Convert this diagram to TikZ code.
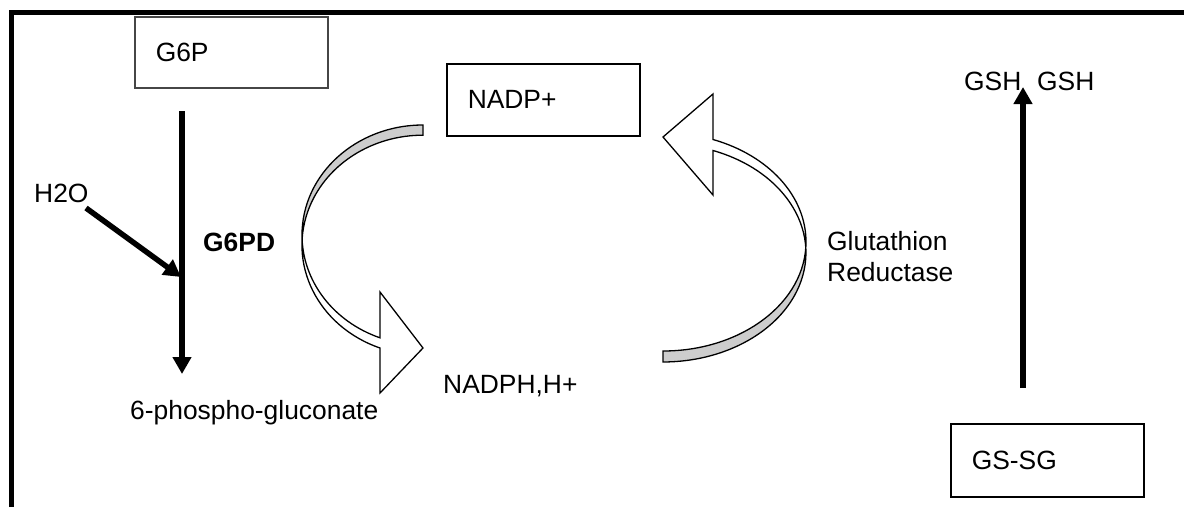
\documentclass[tikz,border=0pt]{standalone}
\usepackage{fontspec}
\setmainfont{Liberation Sans}
\usetikzlibrary{arrows.meta}
\definecolor{bandgray}{RGB}{205,205,205}
\definecolor{boxgray}{RGB}{70,70,70}
\begin{document}
\begin{tikzpicture}[x=1pt,y=1pt,
  lbl/.style={anchor=base west,inner sep=0pt,font=\fontsize{26.4}{31}\selectfont},
  box/.style={draw=black,line width=1.5pt,minimum width=193pt,minimum height=72pt,
    text width=151pt,inner xsep=21pt,inner ysep=0pt,align=left,anchor=north west,
    font=\fontsize{26.4}{31}\selectfont},
  thickarrow/.style={line width=5.5pt,-{Triangle[length=17pt,width=18pt]}},
  curvedge/.style={line width=1.3pt,line join=miter,draw=black},
  frame/.style={line width=5pt,line join=miter}]
\useasboundingbox (0,0) rectangle (1184,-507);
% frame
\draw[frame] (11.5,-507) -- (11.5,-12.5) -- (1190,-12.5);
% boxes
\node[box,draw=boxgray,minimum width=192pt,minimum height=71pt] (g6p) at (134,-16) {G6P};
\node[box] (nadp) at (446,-63) {NADP+};
\node[box,minimum height=73pt] (gssg) at (950,-423) {GS-SG};
% labels
\node[lbl] (h2o) at (34,-202) {H2O};
\node[lbl,font=\fontsize{26.4}{31}\selectfont\bfseries] (g6pd) at (203,-251) {G6PD};
\node[lbl] (pg) at (130,-419) {6-phospho-gluconate};
\node[lbl] (nadph) at (443,-393) {NADPH,H+};
\node[lbl] (glut1) at (827,-250) {Glutathion};
\node[lbl] (glut2) at (827,-281) {Reductase};
\node[lbl] (gsh) at (964,-90) {GSH\hspace{15.8pt}GSH};
% straight arrows
\coordinate (g6pstart) at (182,-111);
\coordinate (pgend) at (182,-374);
\coordinate (h2ostart) at (86,-208);
\coordinate (h2oend) at (181,-277);
\coordinate (gssgstart) at (1023,-388);
\coordinate (gshend) at (1023,-87);
\draw[thickarrow] (g6pstart) -- (pgend);
\draw[thickarrow] (h2ostart) -- (h2oend);
\draw[thickarrow] (gssgstart) -- (gshend);
% left curved arrow (NADP+ -> NADPH)
\fill[bandgray] (423,-125) arc[start angle=90,end angle=180,x radius=121,y radius=110]
  -- ++(0,-10) arc[start angle=180,end angle=90,x radius=121,y radius=110] -- cycle;
\draw[curvedge] (423,-125) arc[start angle=90,end angle=249.2,x radius=121,y radius=110]
  -- (380,-292) -- (423,-348) -- (380,-393) -- (380,-348)
  arc[start angle=249.2,end angle=90,x radius=121,y radius=110] -- cycle;
% right curved arrow (NADPH -> NADP+)
\fill[bandgray] (663,-351) arc[start angle=270,end angle=360,x radius=143,y radius=109.2]
  -- ++(0,-11) arc[start angle=360,end angle=270,x radius=143,y radius=109.2] -- cycle;
\draw[curvedge] (663,-351) arc[start angle=270,end angle=429.5,x radius=143,y radius=109.2]
  -- (713,-94) -- (663,-137) -- (713,-195) -- (713,-150.5)
  arc[start angle=429.5,end angle=270,x radius=143,y radius=109.2] -- cycle;
\end{tikzpicture}
\end{document}
